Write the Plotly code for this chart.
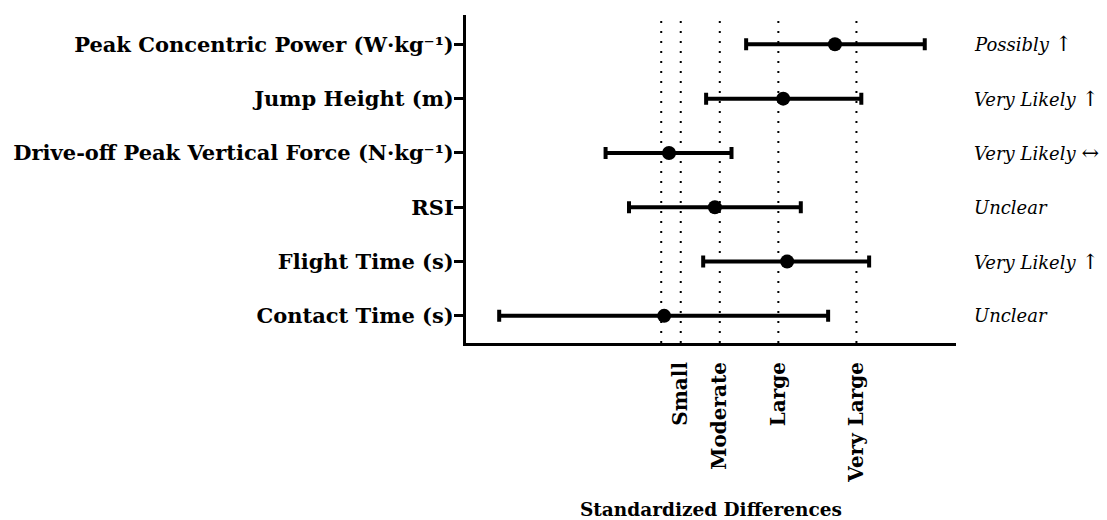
import plotly.graph_objects as go

categories = [
    "Peak Concentric Power (W·kg⁻¹)",
    "Jump Height (m)",
    "Drive-off Peak Vertical Force (N·kg⁻¹)",
    "RSI",
    "Flight Time (s)",
    "Contact Time (s)",
]
effect = [1.78, 1.25, 0.08, 0.55, 1.29, 0.03]
ci_low = [0.87, 0.46, -0.57, -0.33, 0.43, -1.66]
ci_high = [2.70, 2.05, 0.72, 1.43, 2.13, 1.71]
inference_word = ["Possibly", "Very Likely", "Very Likely", "Unclear", "Very Likely", "Unclear"]
inference_arrow = ["↑", "↑", "↔", "", "↑", ""]
threshold_vals = [0.0, 0.2, 0.6, 1.2, 2.0]
threshold_tickvals = [0.2, 0.6, 1.2, 2.0]
threshold_labels = ["Small", "Moderate", "Large", "Very Large"]

FONT = "DejaVu Serif"
ypos = list(range(len(categories)))

fig = go.Figure()
fig.add_trace(go.Scatter(
    x=effect,
    y=ypos,
    mode="markers",
    marker=dict(color="black", size=14),
    error_x=dict(
        type="data",
        symmetric=False,
        array=[h - e for h, e in zip(ci_high, effect)],
        arrayminus=[e - l for e, l in zip(effect, ci_low)],
        color="black",
        thickness=4,
        width=6,
    ),
    showlegend=False,
))

for tv in threshold_vals:
    fig.add_shape(
        type="line", xref="x", yref="paper",
        x0=tv, x1=tv, y0=0, y1=1,
        line=dict(color="black", width=2, dash="2px,8px"),
        layer="below",
    )

for i, (w, a) in enumerate(zip(inference_word, inference_arrow)):
    txt = "<i>%s</i>" % w
    if a:
        txt += ' <span style="font-size:21px">%s</span>' % a
    fig.add_annotation(
        x=1.033, xref="paper", y=ypos[i], yref="y",
        text=txt, showarrow=False, xanchor="left", yanchor="middle",
        font=dict(family=FONT, size=18, color="black"),
    )

fig.update_layout(
    width=1107, height=520,
    margin=dict(l=458, r=159, t=7, b=185),
    plot_bgcolor="white", paper_bgcolor="white",
    font=dict(family=FONT, color="black"),
    xaxis=dict(
        range=[-2.0, 3.02],
        tickvals=threshold_tickvals,
        ticktext=["<b>%s</b>" % t for t in threshold_labels],
        tickangle=-90,
        ticks="",
        showgrid=False, zeroline=False, automargin=False,
        showline=True, linecolor="black", linewidth=3,
        tickfont=dict(family=FONT, size=20, color="black"),
        ticklabelstandoff=8,
        title=dict(text="<b>Standardized Differences</b>",
                   font=dict(family=FONT, size=18.5, color="black"),
                   standoff=22),
    ),
    yaxis=dict(
        range=[5.5, -0.54],
        tickvals=ypos,
        ticktext=["<b>%s</b>" % c for c in categories],
        ticks="outside", ticklen=9, tickwidth=3, tickcolor="black",
        showgrid=False, zeroline=False, automargin=False,
        showline=True, linecolor="black", linewidth=3,
        tickfont=dict(family=FONT, size=21, color="black"),
        ticklabelstandoff=-4,
    ),
)

fig.write_html("out.html")
